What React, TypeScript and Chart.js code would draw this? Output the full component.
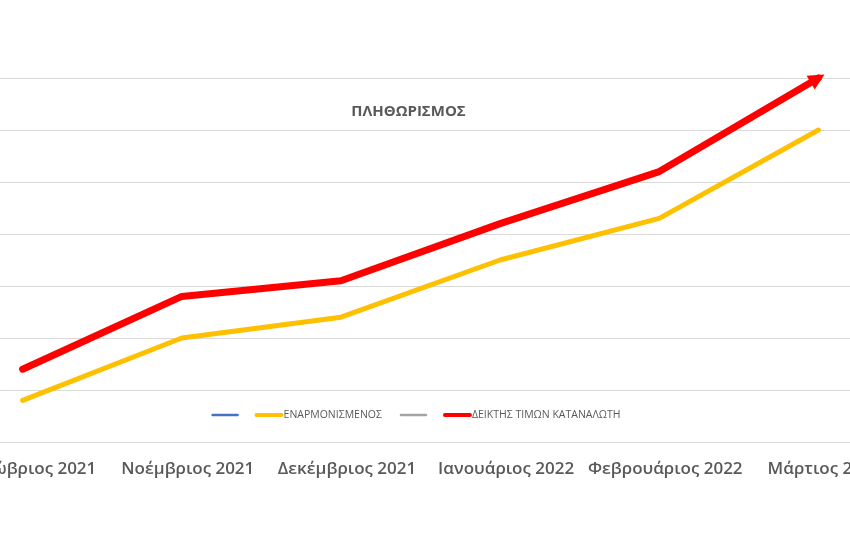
import React, { useEffect, useRef } from "react";
import { Chart, registerables } from "chart.js";

Chart.register(...registerables);

const categories = [
  "Οκτώβριος 2021",
  "Νοέμβριος 2021",
  "Δεκέμβριος 2021",
  "Ιανουάριος 2022",
  "Φεβρουάριος 2022",
  "Μάρτιος 2022",
];
const seriesNames = ["", "ΕΝΑΡΜΟΝΙΣΜΕΝΟΣ", "", "ΔΕΙΚΤΗΣ ΤΙΜΩΝ ΚΑΤΑΝΑΛΩΤΗ"];
const blueValues: (number | null)[] = [null, null, null, null, null, null];
const hicpValues = [2.8, 4.0, 4.4, 5.5, 6.3, 8.0];
const greyValues: (number | null)[] = [null, null, null, null, null, null];
const cpiValues = [3.4, 4.8, 5.1, 6.2, 7.2, 9.0];
const yMin = 2;
const yMax = 9;
const yStep = 1;
const chartTitle = "ΠΛΗΘΩΡΙΣΜΟΣ";

const TEXT = "#595959";
const FONT = "'Open Sans', 'DejaVu Sans', sans-serif";

const overlayPlugin = {
  id: "overlay",
  afterDatasetsDraw(chart: any) {
    const ctx = chart.ctx;
    const meta = chart.getDatasetMeta(3);
    const pts = meta.data;
    if (pts && pts.length >= 2) {
      const a = pts[pts.length - 2];
      const b = pts[pts.length - 1];
      const ang = Math.atan2(b.y - a.y, b.x - a.x);
      const dx = Math.cos(ang);
      const dy = Math.sin(ang);
      const tipX = b.x + dx * 7;
      const tipY = b.y + dy * 7;
      const baseX = b.x - dx * 9;
      const baseY = b.y - dy * 9;
      const hw = 8;
      ctx.save();
      ctx.fillStyle = chart.data.datasets[3].borderColor;
      ctx.beginPath();
      ctx.moveTo(tipX, tipY);
      ctx.lineTo(baseX - dy * hw, baseY + dx * hw);
      ctx.lineTo(baseX + dy * hw, baseY - dx * hw);
      ctx.closePath();
      ctx.fill();
      ctx.restore();
    }
  },
  afterDraw(chart: any) {
    const ctx = chart.ctx;
    const area = chart.chartArea;
    const cx = (area.left + area.right) / 2;
    ctx.save();
    ctx.font = `bold 15px ${FONT}`;
    ctx.fillStyle = TEXT;
    ctx.textAlign = "center";
    ctx.textBaseline = "middle";
    ctx.fillText(chartTitle, cx - 12, 112);

    ctx.font = `10.5px ${FONT}`;
    const lineLen = 27;
    const gap = 17;
    const items = chart.data.datasets.map((ds: any) => {
      const w = ds.label ? ctx.measureText(ds.label).width + 2 : 0;
      return { ds, w: lineLen + w };
    });
    const total = items.reduce((s: number, it: any) => s + it.w, 0) + gap * (items.length - 1);
    let x = cx - 4 - total / 2;
    const y = 415;
    ctx.textAlign = "left";
    ctx.textBaseline = "middle";
    items.forEach((it: any) => {
      ctx.strokeStyle = it.ds.borderColor;
      ctx.lineWidth = Math.min(it.ds.borderWidth, 4);
      ctx.lineCap = "round";
      ctx.beginPath();
      ctx.moveTo(x + 1, y);
      ctx.lineTo(x + lineLen - 1, y);
      ctx.stroke();
      if (it.ds.label) {
        ctx.fillStyle = TEXT;
        ctx.fillText(it.ds.label, x + lineLen + 1, y);
      }
      x += it.w + gap;
    });
    ctx.restore();
  },
};

export default function App() {
  const canvasRef = useRef<HTMLCanvasElement | null>(null);

  useEffect(() => {
    if (!canvasRef.current) return;
    const colors = ["#4472c4", "#ffc000", "#a5a5a5", "#ff0000"];
    const widths = [2.5, 5, 2.5, 7];
    const values = [blueValues, hicpValues, greyValues, cpiValues];
    const chart = new Chart(canvasRef.current, {
      type: "line",
      data: {
        labels: categories,
        datasets: values.map((v, i) => ({
          label: seriesNames[i],
          data: v,
          borderColor: colors[i],
          backgroundColor: colors[i],
          borderWidth: widths[i],
          pointRadius: 0,
          tension: 0,
          borderCapStyle: "round" as const,
          borderJoinStyle: "round" as const,
          clip: false as any,
        })),
      },
      options: {
        animation: false,
        responsive: true,
        maintainAspectRatio: false,
        layout: { padding: { top: 78, left: 0, right: 0, bottom: 0 } },
        plugins: {
          legend: { display: false },
          title: { display: false },
          tooltip: { enabled: false },
        },
        scales: {
          x: {
            offset: true,
            grid: { display: false, drawTicks: false },
            border: { display: false },
            ticks: {
              color: TEXT,
              font: { family: FONT, size: 17, weight: 600 as any },
              padding: 17,
              labelOffset: 6,
              maxRotation: 0,
              minRotation: 0,
              autoSkip: false,
            },
            afterFit: (scale: any) => {
              scale.height = 118;
            },
          },
          y: {
            min: yMin,
            max: yMax,
            ticks: { display: false, stepSize: yStep },
            grid: { color: "#d9d9d9", lineWidth: 1, drawTicks: false },
            border: { display: false },
            afterFit: (scale: any) => {
              scale.width = 0;
            },
          },
        },
      },
      plugins: [overlayPlugin],
    });
    return () => chart.destroy();
  }, []);

  return (
    <div
      style={{
        position: "fixed",
        left: 0,
        top: 0,
        width: 850,
        height: 560,
        overflow: "hidden",
        background: "#ffffff",
      }}
    >
      <div style={{ position: "absolute", left: -62, top: 0, width: 960, height: 560 }}>
        <canvas ref={canvasRef} />
      </div>
    </div>
  );
}
